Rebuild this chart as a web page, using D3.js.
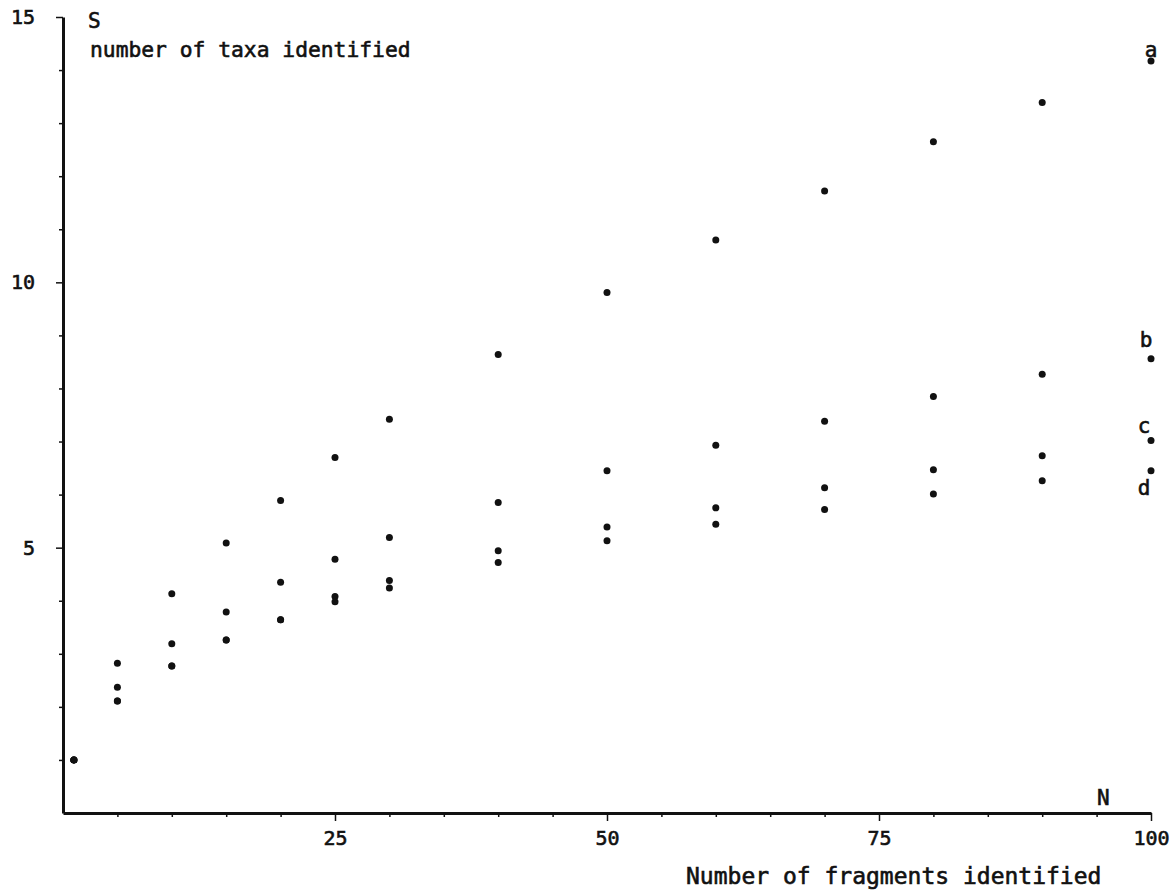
<!DOCTYPE html>
<html>
<head>
<meta charset="utf-8">
<script src="https://cdn.jsdelivr.net/npm/d3@7"></script>
<style>
  body { margin: 0; background: #fff; }
  text { font-family: "DejaVu Sans Mono", "Liberation Mono", monospace; fill: #111; stroke: #111; stroke-width: 0.6px; }
</style>
</head>
<body>
<div id="scatter"></div>
<script>

var svgWidth = 1173;
var svgHeight = 896;

// number of fragments identified (N)
var fragments = [1, 5, 10, 15, 20, 25, 30, 40, 50, 60, 70, 80, 90, 100];

// number of taxa identified (S), one list per curve
var taxaA = [1, 2.82, 4.13, 5.09, 5.89, 6.70, 7.42, 8.64, 9.81, 10.80, 11.72, 12.65, 13.39, 14.17];
var taxaB = [1, 2.37, 3.19, 3.79, 4.35, 4.78, 5.19, 5.85, 6.45, 6.93, 7.38, 7.85, 8.27, 8.56];
var taxaC = [1, 2.11, 2.77, 3.26, 3.64, 4.08, 4.38, 4.94, 5.39, 5.75, 6.13, 6.47, 6.73, 7.02];
var taxaD = [1, 2.11, 2.77, 3.26, 3.64, 3.98, 4.24, 4.72, 5.13, 5.44, 5.72, 6.01, 6.26, 6.45];

var seriesNames = ["a", "b", "c", "d"];

var xTickLabels = [25, 50, 75, 100];
var yTickLabels = [5, 10, 15];

var svg = d3.select("#scatter")
    .append("svg")
        .attr("width", svgWidth)
        .attr("height", svgHeight);

svg.append("rect")
    .attr("width", svgWidth)
    .attr("height", svgHeight)
    .attr("fill", "#fff");

var x = d3.scaleLinear()
    .domain([0, 100])
    .range([63, 1151]);

var y = d3.scaleLinear()
    .domain([0, 15])
    .range([813, 17]);

// x axis: small ticks every 5, longer at 25s
var xAxis = d3.axisBottom(x)
    .tickValues(d3.range(5, 101, 5))
    .tickSizeInner(4)
    .tickSizeOuter(0)
    .tickPadding(14)
    .tickFormat(d => xTickLabels.includes(d) ? d : "");

var gx = svg.append("g")
    .attr("transform", "translate(0," + y(0) + ")")
    .call(xAxis);

gx.select(".domain").attr("stroke", "#111").attr("stroke-width", 3);
gx.selectAll(".tick line")
    .attr("stroke", "#111")
    .attr("stroke-width", 1.5)
    .attr("y2", d => xTickLabels.includes(d) ? 8 : 4);
gx.selectAll(".tick text")
    .style("font-size", "20px")
    .style("font-family", "'DejaVu Sans Mono', monospace")
    .attr("fill", "#111");

// y axis: ticks every unit, longer at 5s
var yAxis = d3.axisLeft(y)
    .tickValues(d3.range(1, 16))
    .tickSizeInner(4)
    .tickSizeOuter(0)
    .tickPadding(24)
    .tickFormat(d => yTickLabels.includes(d) ? d : "");

var gy = svg.append("g")
    .attr("transform", "translate(" + x(0) + ",0)")
    .call(yAxis);

gy.select(".domain").attr("stroke", "#111").attr("stroke-width", 3);
gy.selectAll(".tick line")
    .attr("stroke", "#111")
    .attr("stroke-width", 1.5)
    .attr("x2", d => yTickLabels.includes(d) ? -7 : -4);
gy.selectAll(".tick text")
    .style("font-size", "20px")
    .style("font-family", "'DejaVu Sans Mono', monospace")
    .attr("fill", "#111");

// the four curves as dots
var allSeries = [taxaA, taxaB, taxaC, taxaD];

allSeries.forEach(function(vals, i) {
    svg.append("g")
        .attr("class", "series-" + seriesNames[i])
        .selectAll("circle")
        .data(fragments)
        .enter()
        .append("circle")
            .attr("cx", d => x(d))
            .attr("cy", (d, j) => y(vals[j]))
            .attr("r", 3.5)
            .attr("fill", "#111");
});

// curve letters next to the last point
var labelShift = { a: [0, -4], b: [-5, -12], c: [-7, -7], d: [-7, 24] };

seriesNames.forEach(function(name, i) {
    var last = allSeries[i][allSeries[i].length - 1];
    svg.append("text")
        .attr("x", x(100) + labelShift[name][0])
        .attr("y", y(last) + labelShift[name][1])
        .attr("text-anchor", "middle")
        .style("font-size", "21px")
        .text(name);
});

// axis titles
svg.append("text")
    .attr("x", 88)
    .attr("y", 28)
    .style("font-size", "21px")
    .text("S");

svg.append("text")
    .attr("x", 90)
    .attr("y", 57)
    .style("font-size", "21.3px")
    .text("number of taxa identified");

svg.append("text")
    .attr("x", 1097)
    .attr("y", 805)
    .style("font-size", "21px")
    .text("N");

svg.append("text")
    .attr("x", 686)
    .attr("y", 884)
    .style("font-size", "23px")
    .text("Number of fragments identified");

</script>
</body>
</html>
